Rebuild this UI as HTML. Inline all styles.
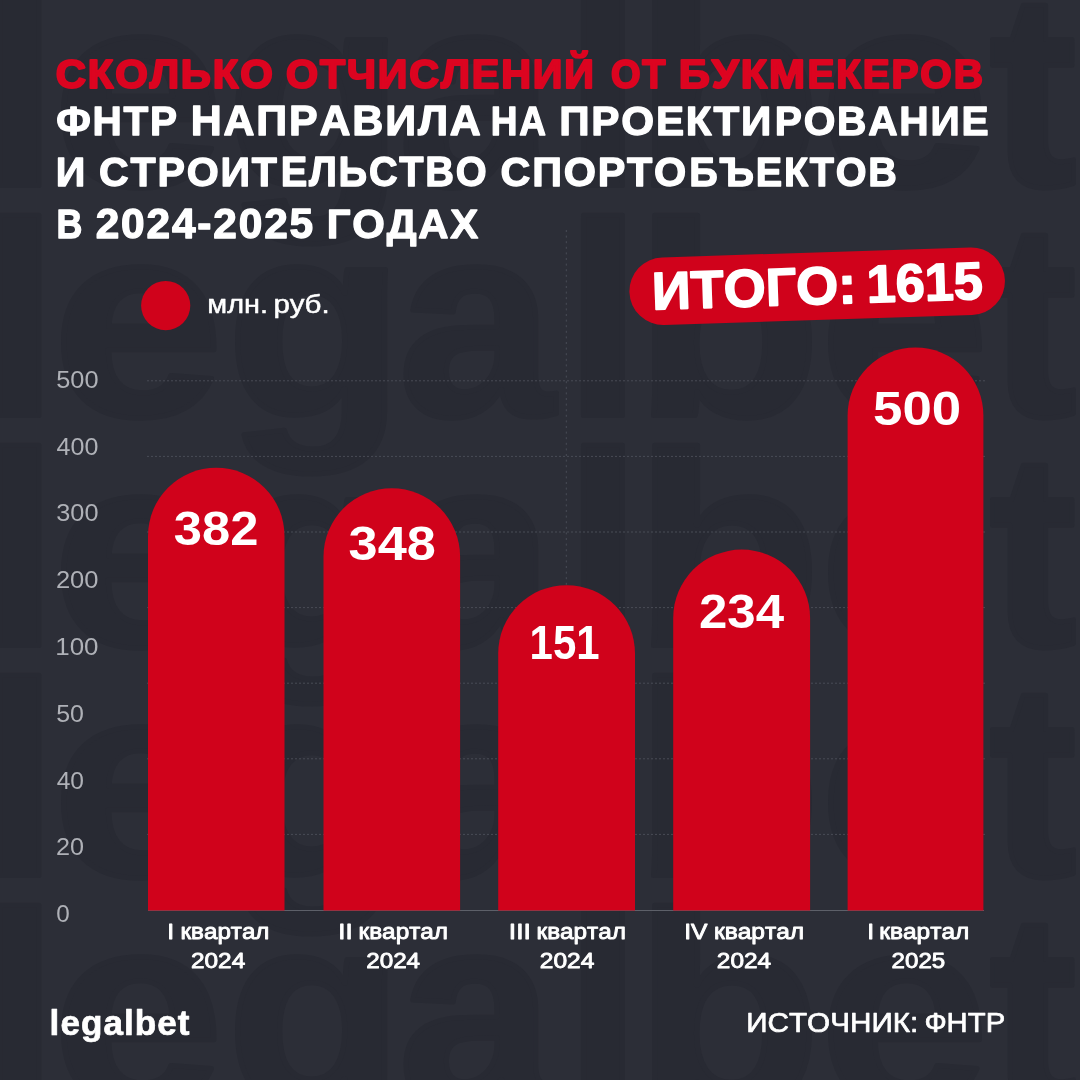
<!DOCTYPE html>
<html lang="ru"><head><meta charset="utf-8"><title>ФНТР: отчисления от букмекеров</title>
<style>
html,body{margin:0;padding:0;background:#2c2e37;}
body{width:1080px;height:1080px;overflow:hidden;font-family:"Liberation Sans",sans-serif;}
svg{display:block;font-family:"Liberation Sans",sans-serif;font-kerning:none;will-change:transform;}
text{font-kerning:none;white-space:pre;}
</style></head><body>
<svg width="1080" height="1080" viewBox="0 0 1080 1080">
<rect width="1080" height="1080" fill="#2c2e37"/>
<g id="watermark" fill="#282a33" stroke="#282a33">
<text transform="translate(-19.72 185.50) scale(1.0252 1)" font-size="276.35" font-weight="700" fill="#282a33" stroke="#282a33" stroke-width="5.0" stroke-linejoin="round">l</text>
<text transform="translate(51.68 185.50) scale(1.1231 1)" font-size="276.35" font-weight="700" fill="#282a33" stroke="#282a33" stroke-width="5.0" stroke-linejoin="round">e</text>
<text transform="translate(225.61 185.50) scale(1.0626 1)" font-size="276.35" font-weight="700" fill="#282a33" stroke="#282a33" stroke-width="5.0" stroke-linejoin="round">g</text>
<text transform="translate(397.79 185.50) scale(1.0207 1)" font-size="276.35" font-weight="700" fill="#282a33" stroke="#282a33" stroke-width="5.0" stroke-linejoin="round">a</text>
<text transform="translate(563.78 185.50) scale(1.0252 1)" font-size="276.35" font-weight="700" fill="#282a33" stroke="#282a33" stroke-width="5.0" stroke-linejoin="round">l</text>
<text transform="translate(633.46 185.50) scale(1.1161 1)" font-size="276.35" font-weight="700" fill="#282a33" stroke="#282a33" stroke-width="5.0" stroke-linejoin="round">b</text>
<text transform="translate(818.77 185.50) scale(1.1123 1)" font-size="276.35" font-weight="700" fill="#282a33" stroke="#282a33" stroke-width="5.0" stroke-linejoin="round">e</text>
<text transform="translate(989.17 185.50) scale(0.9526 1)" font-size="276.35" font-weight="700" fill="#282a33" stroke="#282a33" stroke-width="5.0" stroke-linejoin="round">t</text>
<text transform="translate(-19.72 415.50) scale(1.0252 1)" font-size="276.35" font-weight="700" fill="#282a33" stroke="#282a33" stroke-width="5.0" stroke-linejoin="round">l</text>
<text transform="translate(51.68 415.50) scale(1.1231 1)" font-size="276.35" font-weight="700" fill="#282a33" stroke="#282a33" stroke-width="5.0" stroke-linejoin="round">e</text>
<text transform="translate(225.61 415.50) scale(1.0626 1)" font-size="276.35" font-weight="700" fill="#282a33" stroke="#282a33" stroke-width="5.0" stroke-linejoin="round">g</text>
<text transform="translate(397.79 415.50) scale(1.0207 1)" font-size="276.35" font-weight="700" fill="#282a33" stroke="#282a33" stroke-width="5.0" stroke-linejoin="round">a</text>
<text transform="translate(563.78 415.50) scale(1.0252 1)" font-size="276.35" font-weight="700" fill="#282a33" stroke="#282a33" stroke-width="5.0" stroke-linejoin="round">l</text>
<text transform="translate(633.46 415.50) scale(1.1161 1)" font-size="276.35" font-weight="700" fill="#282a33" stroke="#282a33" stroke-width="5.0" stroke-linejoin="round">b</text>
<text transform="translate(818.77 415.50) scale(1.1123 1)" font-size="276.35" font-weight="700" fill="#282a33" stroke="#282a33" stroke-width="5.0" stroke-linejoin="round">e</text>
<text transform="translate(989.17 415.50) scale(0.9526 1)" font-size="276.35" font-weight="700" fill="#282a33" stroke="#282a33" stroke-width="5.0" stroke-linejoin="round">t</text>
<text transform="translate(-19.72 645.50) scale(1.0252 1)" font-size="276.35" font-weight="700" fill="#282a33" stroke="#282a33" stroke-width="5.0" stroke-linejoin="round">l</text>
<text transform="translate(51.68 645.50) scale(1.1231 1)" font-size="276.35" font-weight="700" fill="#282a33" stroke="#282a33" stroke-width="5.0" stroke-linejoin="round">e</text>
<text transform="translate(225.61 645.50) scale(1.0626 1)" font-size="276.35" font-weight="700" fill="#282a33" stroke="#282a33" stroke-width="5.0" stroke-linejoin="round">g</text>
<text transform="translate(397.79 645.50) scale(1.0207 1)" font-size="276.35" font-weight="700" fill="#282a33" stroke="#282a33" stroke-width="5.0" stroke-linejoin="round">a</text>
<text transform="translate(563.78 645.50) scale(1.0252 1)" font-size="276.35" font-weight="700" fill="#282a33" stroke="#282a33" stroke-width="5.0" stroke-linejoin="round">l</text>
<text transform="translate(633.46 645.50) scale(1.1161 1)" font-size="276.35" font-weight="700" fill="#282a33" stroke="#282a33" stroke-width="5.0" stroke-linejoin="round">b</text>
<text transform="translate(818.77 645.50) scale(1.1123 1)" font-size="276.35" font-weight="700" fill="#282a33" stroke="#282a33" stroke-width="5.0" stroke-linejoin="round">e</text>
<text transform="translate(989.17 645.50) scale(0.9526 1)" font-size="276.35" font-weight="700" fill="#282a33" stroke="#282a33" stroke-width="5.0" stroke-linejoin="round">t</text>
<text transform="translate(-19.72 875.50) scale(1.0252 1)" font-size="276.35" font-weight="700" fill="#282a33" stroke="#282a33" stroke-width="5.0" stroke-linejoin="round">l</text>
<text transform="translate(51.68 875.50) scale(1.1231 1)" font-size="276.35" font-weight="700" fill="#282a33" stroke="#282a33" stroke-width="5.0" stroke-linejoin="round">e</text>
<text transform="translate(225.61 875.50) scale(1.0626 1)" font-size="276.35" font-weight="700" fill="#282a33" stroke="#282a33" stroke-width="5.0" stroke-linejoin="round">g</text>
<text transform="translate(397.79 875.50) scale(1.0207 1)" font-size="276.35" font-weight="700" fill="#282a33" stroke="#282a33" stroke-width="5.0" stroke-linejoin="round">a</text>
<text transform="translate(563.78 875.50) scale(1.0252 1)" font-size="276.35" font-weight="700" fill="#282a33" stroke="#282a33" stroke-width="5.0" stroke-linejoin="round">l</text>
<text transform="translate(633.46 875.50) scale(1.1161 1)" font-size="276.35" font-weight="700" fill="#282a33" stroke="#282a33" stroke-width="5.0" stroke-linejoin="round">b</text>
<text transform="translate(818.77 875.50) scale(1.1123 1)" font-size="276.35" font-weight="700" fill="#282a33" stroke="#282a33" stroke-width="5.0" stroke-linejoin="round">e</text>
<text transform="translate(989.17 875.50) scale(0.9526 1)" font-size="276.35" font-weight="700" fill="#282a33" stroke="#282a33" stroke-width="5.0" stroke-linejoin="round">t</text>
<text transform="translate(-19.72 1105.50) scale(1.0252 1)" font-size="276.35" font-weight="700" fill="#282a33" stroke="#282a33" stroke-width="5.0" stroke-linejoin="round">l</text>
<text transform="translate(51.68 1105.50) scale(1.1231 1)" font-size="276.35" font-weight="700" fill="#282a33" stroke="#282a33" stroke-width="5.0" stroke-linejoin="round">e</text>
<text transform="translate(225.61 1105.50) scale(1.0626 1)" font-size="276.35" font-weight="700" fill="#282a33" stroke="#282a33" stroke-width="5.0" stroke-linejoin="round">g</text>
<text transform="translate(397.79 1105.50) scale(1.0207 1)" font-size="276.35" font-weight="700" fill="#282a33" stroke="#282a33" stroke-width="5.0" stroke-linejoin="round">a</text>
<text transform="translate(563.78 1105.50) scale(1.0252 1)" font-size="276.35" font-weight="700" fill="#282a33" stroke="#282a33" stroke-width="5.0" stroke-linejoin="round">l</text>
<text transform="translate(633.46 1105.50) scale(1.1161 1)" font-size="276.35" font-weight="700" fill="#282a33" stroke="#282a33" stroke-width="5.0" stroke-linejoin="round">b</text>
<text transform="translate(818.77 1105.50) scale(1.1123 1)" font-size="276.35" font-weight="700" fill="#282a33" stroke="#282a33" stroke-width="5.0" stroke-linejoin="round">e</text>
<text transform="translate(989.17 1105.50) scale(0.9526 1)" font-size="276.35" font-weight="700" fill="#282a33" stroke="#282a33" stroke-width="5.0" stroke-linejoin="round">t</text>
</g>
<g id="grid" stroke="#494c56" stroke-width="1" stroke-dasharray="2 2" fill="none">
<line x1="147" y1="380.8" x2="985" y2="380.8"/>
<line x1="147" y1="456.4" x2="985" y2="456.4"/>
<line x1="147" y1="532.0" x2="985" y2="532.0"/>
<line x1="147" y1="607.6" x2="985" y2="607.6"/>
<line x1="147" y1="683.2" x2="985" y2="683.2"/>
<line x1="147" y1="758.8" x2="985" y2="758.8"/>
<line x1="147" y1="834.4" x2="985" y2="834.4"/>
</g>
<line x1="148" y1="910.5" x2="984" y2="910.5" stroke="#5d6069" stroke-width="1"/>
<line x1="566.3" y1="230" x2="566.3" y2="590" stroke="#494c56" stroke-width="1" stroke-dasharray="2 3.6"/>
<g id="yaxis">
<text transform="translate(56.18 387.70) scale(1.0977 1)" font-size="23.10" font-weight="400" fill="#afb1b7">500</text>
<text transform="translate(56.62 454.50) scale(1.0860 1)" font-size="23.10" font-weight="400" fill="#afb1b7">400</text>
<text transform="translate(56.24 521.30) scale(1.0963 1)" font-size="23.10" font-weight="400" fill="#afb1b7">300</text>
<text transform="translate(55.92 588.10) scale(1.1048 1)" font-size="23.10" font-weight="400" fill="#afb1b7">200</text>
<text transform="translate(55.22 654.90) scale(1.1232 1)" font-size="23.10" font-weight="400" fill="#afb1b7">100</text>
<text transform="translate(56.20 721.70) scale(1.0810 1)" font-size="23.10" font-weight="400" fill="#afb1b7">50</text>
<text transform="translate(56.64 788.50) scale(1.0634 1)" font-size="23.10" font-weight="400" fill="#afb1b7">40</text>
<text transform="translate(55.93 855.30) scale(1.0918 1)" font-size="23.10" font-weight="400" fill="#afb1b7">20</text>
<text transform="translate(56.25 922.10) scale(1.0505 1)" font-size="23.10" font-weight="400" fill="#afb1b7">0</text>
</g>
<g id="bars" fill="#d0021b">
<path d="M148.0 910.4V535.95A68.25 68.25 0 0 1 284.5 535.95V910.4Z"/>
<path d="M323.5 910.4V556.60A68.30 68.30 0 0 1 460.1 556.60V910.4Z"/>
<path d="M498.2 910.4V653.50A68.40 68.40 0 0 1 635.0 653.50V910.4Z"/>
<path d="M673.2 910.4V617.95A68.45 68.45 0 0 1 810.1 617.95V910.4Z"/>
<path d="M847.6 910.4V415.40A67.90 67.90 0 0 1 983.4 415.40V910.4Z"/>
</g>
<g id="values">
<text transform="translate(173.84 545.30) scale(1.0719 1)" font-size="47.30" font-weight="700" fill="#ffffff">382</text>
<text transform="translate(348.60 560.30) scale(1.1050 1)" font-size="47.30" font-weight="700" fill="#ffffff">348</text>
<text transform="translate(529.56 659.00) scale(0.8871 1)" font-size="47.30" font-weight="700" fill="#ffffff">151</text>
<text transform="translate(699.03 628.20) scale(1.0776 1)" font-size="47.30" font-weight="700" fill="#ffffff">234</text>
<text transform="translate(873.07 424.70) scale(1.1175 1)" font-size="47.30" font-weight="700" fill="#ffffff">500</text>
</g>
<g id="xaxis">
<text transform="translate(167.20 939.25) scale(1.0946 1)" font-size="22.67" font-weight="400" fill="#ffffff" stroke="#ffffff" stroke-width="0.9" stroke-linejoin="round">I</text>
<text transform="translate(180.55 939.25) scale(1.0663 1)" font-size="22.67" font-weight="400" fill="#ffffff" stroke="#ffffff" stroke-width="0.9" stroke-linejoin="round">квартал</text>
<text transform="translate(190.96 968.35) scale(1.0759 1)" font-size="22.67" font-weight="400" fill="#ffffff" stroke="#ffffff" stroke-width="0.9" stroke-linejoin="round">2024</text>
<text transform="translate(338.33 939.25) scale(1.1380 1)" font-size="22.67" font-weight="400" fill="#ffffff" stroke="#ffffff" stroke-width="0.9" stroke-linejoin="round">II</text>
<text transform="translate(358.54 939.25) scale(1.0737 1)" font-size="22.67" font-weight="400" fill="#ffffff" stroke="#ffffff" stroke-width="0.9" stroke-linejoin="round">квартал</text>
<text transform="translate(366.16 968.35) scale(1.0699 1)" font-size="22.67" font-weight="400" fill="#ffffff" stroke="#ffffff" stroke-width="0.9" stroke-linejoin="round">2024</text>
<text transform="translate(508.79 939.25) scale(1.1656 1)" font-size="22.67" font-weight="400" fill="#ffffff" stroke="#ffffff" stroke-width="0.9" stroke-linejoin="round">III</text>
<text transform="translate(536.54 939.25) scale(1.0725 1)" font-size="22.67" font-weight="400" fill="#ffffff" stroke="#ffffff" stroke-width="0.9" stroke-linejoin="round">квартал</text>
<text transform="translate(539.75 968.35) scale(1.0820 1)" font-size="22.67" font-weight="400" fill="#ffffff" stroke="#ffffff" stroke-width="0.9" stroke-linejoin="round">2024</text>
<text transform="translate(684.21 939.25) scale(1.0878 1)" font-size="22.67" font-weight="400" fill="#ffffff" stroke="#ffffff" stroke-width="0.9" stroke-linejoin="round">IV</text>
<text transform="translate(713.93 939.25) scale(1.0823 1)" font-size="22.67" font-weight="400" fill="#ffffff" stroke="#ffffff" stroke-width="0.9" stroke-linejoin="round">квартал</text>
<text transform="translate(716.86 968.35) scale(1.0759 1)" font-size="22.67" font-weight="400" fill="#ffffff" stroke="#ffffff" stroke-width="0.9" stroke-linejoin="round">2024</text>
<text transform="translate(867.20 939.25) scale(1.0946 1)" font-size="22.67" font-weight="400" fill="#ffffff" stroke="#ffffff" stroke-width="0.9" stroke-linejoin="round">I</text>
<text transform="translate(879.34 939.25) scale(1.0786 1)" font-size="22.67" font-weight="400" fill="#ffffff" stroke="#ffffff" stroke-width="0.9" stroke-linejoin="round">квартал</text>
<text transform="translate(891.57 968.35) scale(1.0640 1)" font-size="22.67" font-weight="400" fill="#ffffff" stroke="#ffffff" stroke-width="0.9" stroke-linejoin="round">2025</text>
</g>
<circle cx="165.7" cy="305.6" r="24.6" fill="#d0021b"/>
<text transform="translate(207.28 312.55) scale(1.1368 1)" font-size="25.40" font-weight="400" fill="#ffffff" stroke="#ffffff" stroke-width="0.5" stroke-linejoin="round">млн.</text>
<text transform="translate(273.39 312.55) scale(1.1606 1)" font-size="25.40" font-weight="400" fill="#ffffff" stroke="#ffffff" stroke-width="0.5" stroke-linejoin="round">руб.</text>
<g id="title">
<text transform="translate(55.67 87.75) scale(1.0364 1)" font-size="40.41" font-weight="700" fill="#dc0420" letter-spacing="1.800" stroke="#dc0420" stroke-width="2.1" stroke-linejoin="round">СКОЛЬКО</text>
<text transform="translate(286.08 87.75) scale(1.0213 1)" font-size="40.41" font-weight="700" fill="#dc0420" letter-spacing="1.800" stroke="#dc0420" stroke-width="2.1" stroke-linejoin="round">ОТЧИСЛЕНИЙ</text>
<text transform="translate(610.93 87.75) scale(0.9409 1)" font-size="40.41" font-weight="700" fill="#dc0420" letter-spacing="1.800" stroke="#dc0420" stroke-width="2.1" stroke-linejoin="round">ОТ</text>
<text transform="translate(678.83 87.75) scale(1.0707 1)" font-size="40.41" font-weight="700" fill="#dc0420" letter-spacing="1.800" stroke="#dc0420" stroke-width="2.1" stroke-linejoin="round">БУКМ</text>
<text transform="translate(807.54 87.75) scale(1.0012 1)" font-size="40.41" font-weight="700" fill="#dc0420" letter-spacing="1.800" stroke="#dc0420" stroke-width="2.1" stroke-linejoin="round">ЕКЕРОВ</text>
<text transform="translate(56.13 135.35) scale(0.9750 1)" font-size="41.57" font-weight="700" fill="#ffffff" letter-spacing="1.800" stroke="#ffffff" stroke-width="1.3" stroke-linejoin="round">ФНТР</text>
<text transform="translate(190.70 135.35) scale(1.0320 1)" font-size="41.57" font-weight="700" fill="#ffffff" letter-spacing="1.800" stroke="#ffffff" stroke-width="1.3" stroke-linejoin="round">НАПРАВИЛА</text>
<text transform="translate(490.80 135.35) scale(0.8909 1)" font-size="41.57" font-weight="700" fill="#ffffff" letter-spacing="1.800" stroke="#ffffff" stroke-width="1.3" stroke-linejoin="round">НА</text>
<text transform="translate(559.14 135.35) scale(1.0149 1)" font-size="41.57" font-weight="700" fill="#ffffff" letter-spacing="1.800" stroke="#ffffff" stroke-width="1.3" stroke-linejoin="round">ПРОЕКТИ</text>
<text transform="translate(774.81 135.35) scale(0.9785 1)" font-size="41.57" font-weight="700" fill="#ffffff" letter-spacing="1.800" stroke="#ffffff" stroke-width="1.3" stroke-linejoin="round">РОВАНИЕ</text>
<text transform="translate(55.81 186.25) scale(0.9907 1)" font-size="41.57" font-weight="700" fill="#ffffff" letter-spacing="1.800" stroke="#ffffff" stroke-width="1.3" stroke-linejoin="round">И</text>
<text transform="translate(99.06 186.25) scale(0.9900 1)" font-size="41.57" font-weight="700" fill="#ffffff" letter-spacing="1.800" stroke="#ffffff" stroke-width="1.3" stroke-linejoin="round">СТРОИТ</text>
<text transform="translate(280.76 186.25) scale(0.9565 1)" font-size="41.57" font-weight="700" fill="#ffffff" letter-spacing="1.800" stroke="#ffffff" stroke-width="1.3" stroke-linejoin="round">ЕЛЬСТВО</text>
<text transform="translate(500.45 186.25) scale(0.9960 1)" font-size="41.57" font-weight="700" fill="#ffffff" letter-spacing="1.800" stroke="#ffffff" stroke-width="1.3" stroke-linejoin="round">СПОРТО</text>
<text transform="translate(689.37 186.25) scale(0.9533 1)" font-size="41.57" font-weight="700" fill="#ffffff" letter-spacing="1.800" stroke="#ffffff" stroke-width="1.3" stroke-linejoin="round">БЪЕКТОВ</text>
<text transform="translate(56.56 237.55) scale(0.8630 1)" font-size="41.57" font-weight="700" fill="#ffffff" letter-spacing="1.800" stroke="#ffffff" stroke-width="1.3" stroke-linejoin="round">В</text>
<text transform="translate(95.69 237.55) scale(1.0203 1)" font-size="41.57" font-weight="700" fill="#ffffff" letter-spacing="1.800" stroke="#ffffff" stroke-width="1.3" stroke-linejoin="round">2024-2025</text>
<text transform="translate(326.75 237.55) scale(1.0073 1)" font-size="41.57" font-weight="700" fill="#ffffff" letter-spacing="1.800" stroke="#ffffff" stroke-width="1.3" stroke-linejoin="round">ГОДАХ</text>
</g>
<g id="total" transform="translate(817.7 285.6) rotate(-1.85)">
<rect x="-188.4" y="-33.2" width="375.7" height="67.6" rx="33.8" ry="33.8" fill="#d0021b"/>
<text transform="translate(-165.97 18.50) scale(1.0214 1)" font-size="52.91" font-weight="700" fill="#ffffff" stroke="#ffffff" stroke-width="1.6" stroke-linejoin="round">ИТОГО:</text>
<text transform="translate(49.10 18.50) scale(0.9861 1)" font-size="52.91" font-weight="700" fill="#ffffff" stroke="#ffffff" stroke-width="1.6" stroke-linejoin="round">1615</text>
</g>
<text transform="translate(49.61 1035.45) scale(1.0259 1)" font-size="34.23" font-weight="700" fill="#ffffff" letter-spacing="1.000" stroke="#ffffff" stroke-width="0.7" stroke-linejoin="round">legalbet</text>
<text transform="translate(746.13 1031.65) scale(1.0595 1)" font-size="28.05" font-weight="400" fill="#ffffff" stroke="#ffffff" stroke-width="0.7" stroke-linejoin="round">ИСТОЧНИК:</text>
<text transform="translate(924.38 1031.65) scale(1.0435 1)" font-size="28.05" font-weight="400" fill="#ffffff" stroke="#ffffff" stroke-width="0.7" stroke-linejoin="round">ФНТР</text>
</svg>
</body></html>
